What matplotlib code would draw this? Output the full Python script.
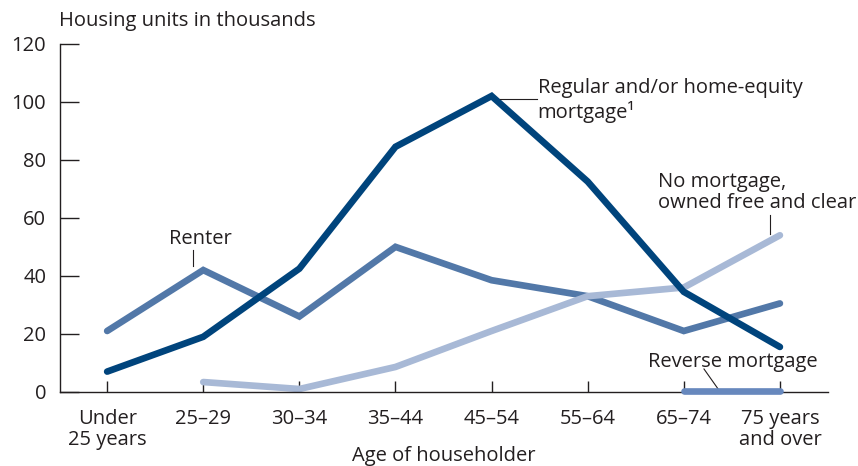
import matplotlib
matplotlib.use('Agg')
import matplotlib.pyplot as plt
import numpy as np

# Categorias e valores (milhares de unidades)
ages = ['Under\n25 years', '25–29', '30–34', '35–44', '45–54', '55–64', '65–74', '75 years\nand over']
regular = [7, 19, 42.5, 84.5, 102, 72.5, 34.5, 15.5]
renter = [21, 42, 26, 50, 38.5, 33, 21, 30.5]
no_mortgage = [np.nan, 3.4, 1, 8.6, 21, 33, 36, 54]
reverse = [np.nan, np.nan, np.nan, np.nan, np.nan, np.nan, 0.3, 0.3]

c_regular = '#00447c'
c_renter = '#5278a8'
c_free = '#a8b9d6'
c_reverse = '#6788bd'
txt = '#231f20'
fs = 14.5

plt.rcParams['font.family'] = ['Open Sans', 'DejaVu Sans']

fig = plt.figure(figsize=(8.58, 4.66), dpi=100)
ax = fig.add_axes([0.07, 0.159, 0.895, 0.747])
x = np.arange(len(ages))

ax.plot(x, renter, color=c_renter, lw=4.8, solid_capstyle='round', solid_joinstyle='miter')
ax.plot(x, no_mortgage, color=c_free, lw=4.8, solid_capstyle='round', solid_joinstyle='miter')
ax.plot(x, regular, color=c_regular, lw=4.8, solid_capstyle='round', solid_joinstyle='miter')
ax.plot(x, reverse, color=c_reverse, lw=4.8, solid_capstyle='round', zorder=5, clip_on=False)

ax.set_xlim(-0.49, 7.5)
ax.set_ylim(0, 120)
ax.set_yticks(range(0, 121, 20))
ax.set_xticks(x)
ax.set_xticklabels(ages, fontsize=fs, color=txt, linespacing=1.12)
ax.tick_params(axis='y', direction='in', length=14, width=1, labelsize=fs, colors=txt, pad=10)
ax.tick_params(axis='x', direction='in', length=8, width=1, colors=txt, pad=12)
for s in ['top', 'right']:
    ax.spines[s].set_visible(False)
for s in ['left', 'bottom']:
    ax.spines[s].set_linewidth(1)
    ax.spines[s].set_color(txt)

ax.set_xlabel('Age of householder', fontsize=fs, color=txt, labelpad=-3)
fig.text(0.069, 1 - 26 / 466, 'Housing units in thousands', fontsize=fs, color=txt,
         ha='left', va='baseline')

# Rótulos das séries
ax.text(0.967, 51, 'Renter', fontsize=fs, color=txt, ha='center', va='baseline')
ax.plot([0.894, 0.894], [43.5, 49], color=txt, lw=0.8)

ax.text(4.48, 103.1, 'Regular and/or home-equity', fontsize=fs, color=txt,
        ha='left', va='baseline')
ax.text(4.48, 94.5, 'mortgage¹', fontsize=fs, color=txt, ha='left', va='baseline')
ax.plot([4.09, 4.47], [100.9, 100.9], color=txt, lw=0.8)

ax.text(5.73, 70.7, 'No mortgage,', fontsize=fs, color=txt, ha='left', va='baseline')
ax.text(5.73, 63.4, 'owned free and clear', fontsize=fs, color=txt, ha='left', va='baseline')
ax.plot([6.9, 6.9], [54.5, 61], color=txt, lw=0.8)

ax.text(5.63, 8.6, 'Reverse mortgage', fontsize=fs, color=txt, ha='left', va='baseline')
ax.plot([6.21, 6.37], [7.9, 0.4], color=txt, lw=0.8)

fig.savefig('out.png', dpi=100)
